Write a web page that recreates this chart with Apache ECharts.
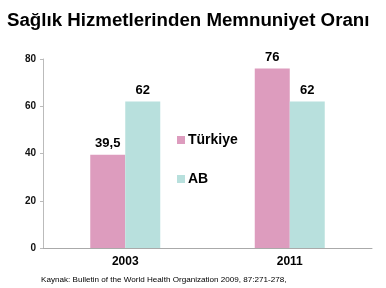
<!DOCTYPE html>
<html><head><meta charset="utf-8">
<script src="https://cdn.jsdelivr.net/npm/echarts@6/dist/echarts.min.js"></script>
<style>html,body{margin:0;padding:0;background:#fff}#c{width:386px;height:288px}</style>
</head><body><div id="c"></div>
<script>
const categories = ['2003', '2011'];
const turkiye = [39.5, 76];
const ab = [62, 62];
const yTicks = [0, 20, 40, 60, 80];

const chart = echarts.init(document.getElementById('c'));
const fmt = v => String(v.value !== undefined ? v.value : v).replace('.', ',');
chart.setOption({
  animation: false,
  backgroundColor: '#fff',
  title: [{
    text: 'Sağlık Hizmetlerinden Memnuniyet Oranı',
    left: 2, top: 6,
    textStyle: {fontFamily: 'Liberation Sans', fontWeight: 'bold', fontSize: 18.7, color: '#000'}
  }, {
    text: 'Kaynak: Bulletin of the World Health Organization 2009, 87:271-278,',
    left: 36, top: 271,
    textStyle: {fontFamily: 'Liberation Sans', fontWeight: 'normal', fontSize: 8.1, color: '#000'}
  }],
  legend: {
    orient: 'vertical', left: 172, top: 128, itemGap: 25,
    itemWidth: 8, itemHeight: 8, icon: 'rect',
    textStyle: {fontFamily: 'Liberation Sans', fontWeight: 'bold', fontSize: 14, color: '#000', padding: [0,0,0,-2]},
    data: ['Türkiye', 'AB']
  },
  grid: {left: 43, right: 14, top: 59, bottom: 40},
  xAxis: {
    type: 'category', data: categories,
    axisLine: {lineStyle: {color: '#aaa'}},
    axisTick: {show: false},
    axisLabel: {fontFamily: 'Liberation Sans', fontWeight: 'bold', fontSize: 12, color: '#000', margin: 8}
  },
  yAxis: {
    type: 'value', min: yTicks[0], max: yTicks[yTicks.length-1], interval: 20,
    axisLine: {show: true, lineStyle: {color: '#bbb'}},
    axisTick: {show: true, length: 3, lineStyle: {color: '#bbb'}},
    splitLine: {show: false},
    axisLabel: {fontFamily: 'Liberation Sans', fontWeight: 'bold', fontSize: 10, color: '#111', margin: 7}
  },
  series: [{
    name: 'Türkiye', type: 'bar', data: turkiye, barWidth: 35, barGap: '0%',
    itemStyle: {color: '#DD9CBE'},
    label: {show: true, position: 'top', formatter: fmt, fontFamily: 'Liberation Sans', fontWeight: 'bold', fontSize: 13, color: '#000', distance: 5}
  }, {
    name: 'AB', type: 'bar', data: ab, barWidth: 35,
    itemStyle: {color: '#B8E0DD'},
    label: {show: true, position: 'top', formatter: fmt, fontFamily: 'Liberation Sans', fontWeight: 'bold', fontSize: 13, color: '#000', distance: 5}
  }]
});
</script></body></html>
